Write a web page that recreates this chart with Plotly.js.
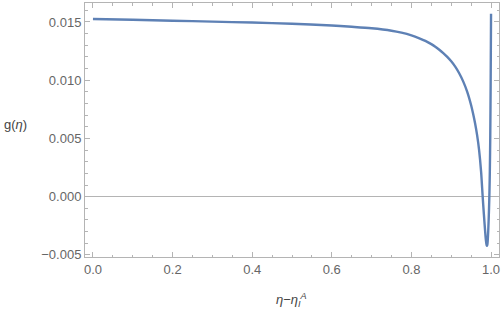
<!DOCTYPE html>
<html>
<head>
<meta charset="utf-8">
<script src="https://cdn.plot.ly/plotly-3.0.1.min.js"></script>
<style>html,body{margin:0;padding:0;background:#fff;}#chart{width:504px;height:317px;}</style>
</head>
<body>
<div id="chart"></div>
<script>
const etaShift = [0, 0.1, 0.2, 0.3, 0.4, 0.5, 0.6, 0.65, 0.7, 0.75, 0.775, 0.8, 0.82, 0.835, 0.85, 0.86,
  0.87, 0.88, 0.89, 0.9, 0.91, 0.92, 0.93, 0.94, 0.95, 0.955, 0.96, 0.965, 0.97, 0.975, 0.979,
  0.982, 0.985, 0.987, 0.989, 0.990, 0.991, 0.993, 0.995, 0.996, 0.997, 0.998, 0.999, 1.0];
const gValues = [0.01526, 0.01519, 0.01511, 0.01503, 0.01495, 0.01485, 0.01470, 0.01459, 0.01446, 0.01425,
  0.01408, 0.01385, 0.01360, 0.01338, 0.01310, 0.01288,
  0.01262, 0.01233, 0.01200, 0.01162, 0.01116, 0.01060, 0.00990, 0.00902, 0.00785, 0.00712, 0.00628,
  0.00528, 0.00400, 0.00215, 0.00000, -0.00150, -0.00290, -0.00370, -0.00418, -0.00422, -0.00405,
  -0.00290, -0.00095, 0.00040, 0.00220, 0.00500, 0.00950, 0.01570];
const xTickFormat = '.1f';
const yTickFormat = '.3f';

const frameColor = '#b4b4b4';
const tickFont = {family: 'Liberation Sans, Arial, sans-serif', size: 13, color: '#666666'};

const trace = {
  x: etaShift, y: gValues, type: 'scatter', mode: 'lines',
  line: {color: '#5e81b5', width: 2.4, shape: 'spline', smoothing: 0.8}, hoverinfo: 'skip'
};

const axisCommon = {
  showline: true, linecolor: frameColor, linewidth: 1, mirror: 'ticks',
  ticks: 'inside', ticklen: 5, tickcolor: frameColor, tickwidth: 1,
  showgrid: false, tickfont: tickFont
};

const layout = {
  width: 504, height: 317,
  margin: {l: 85, r: 5, t: 3, b: 60},
  paper_bgcolor: '#ffffff', plot_bgcolor: '#ffffff',
  showlegend: false,
  xaxis: Object.assign({}, axisCommon, {
    range: [-0.02, 1.02], tick0: 0, dtick: 0.2, tickformat: xTickFormat, zeroline: false,
    minor: {ticks: 'inside', ticklen: 2.5, dtick: 0.05, tick0: 0, tickcolor: frameColor, showgrid: false}
  }),
  yaxis: Object.assign({}, axisCommon, {
    range: [-0.00518, 0.01663], tick0: 0, dtick: 0.005, tickformat: yTickFormat,
    zeroline: true, zerolinecolor: frameColor, zerolinewidth: 1,
    minor: {ticks: 'inside', ticklen: 2.5, dtick: 0.001, tick0: 0, tickcolor: frameColor, showgrid: false}
  }),
  annotations: [
    {text: 'g(<i>η</i>)', xref: 'paper', yref: 'paper', x: -0.167, y: 0.52,
     xanchor: 'center', yanchor: 'middle', showarrow: false,
     font: {family: 'Liberation Sans, Arial, sans-serif', size: 13, color: '#444444'}},
    {text: '<i>η</i>−<i>η</i><sub><i>I</i></sub><sup><i>A</i></sup>', xref: 'paper', yref: 'paper', x: 0.4976, y: -0.169,
     xanchor: 'center', yanchor: 'middle', showarrow: false,
     font: {family: 'Liberation Sans, Arial, sans-serif', size: 13, color: '#444444'}}
  ]
};

Plotly.newPlot('chart', [trace], layout, {staticPlot: true, displayModeBar: false});
</script>
</body>
</html>
